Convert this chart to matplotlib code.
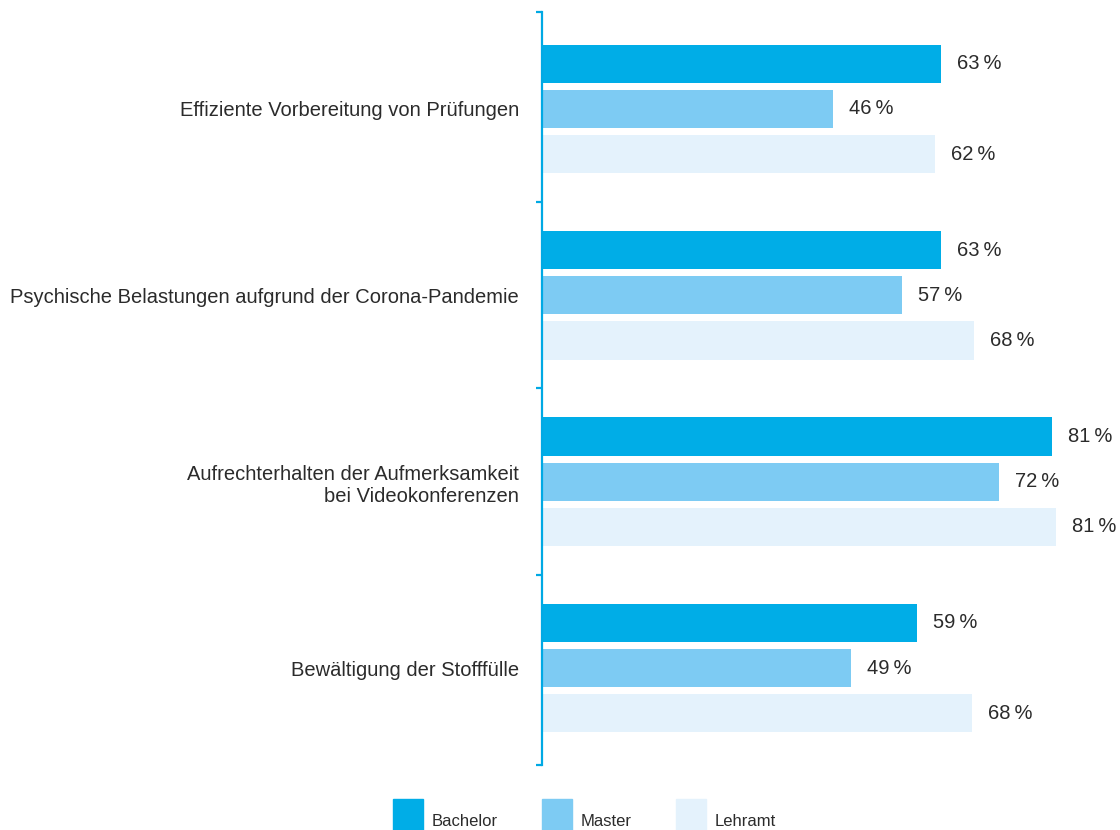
import numpy as np
import matplotlib
matplotlib.use('Agg')
import matplotlib.pylab as plt
from matplotlib.patches import Rectangle

# data (percent)
categories = ['Effiziente Vorbereitung von Prüfungen',
              'Psychische Belastungen aufgrund der Corona-Pandemie',
              'Aufrechterhalten der Aufmerksamkeit\nbei Videokonferenzen',
              'Bewältigung der Stofffülle']
series = ['Bachelor', 'Master', 'Lehramt']
bachelor = [63.2, 63.3, 80.8, 59.4]
master = [46.1, 57.1, 72.4, 48.9]
lehramt = [62.2, 68.4, 81.4, 68.2]
colors = ['#00ade7', '#7dcbf3', '#e4f2fc']
blue = '#00a9e4'
txt = '#2b2b2b'

plt.rcParams['font.family'] = ['Liberation Sans', 'DejaVu Sans']

fig = plt.figure(figsize=(11.2, 8.3), dpi=100)
ax = fig.add_axes([542/1120, 1-765/830, 568/1120, 753/830])

y = np.arange(len(categories))
step, h = 0.242, 0.205
for i, (vals, c) in enumerate(zip([bachelor, master, lehramt], colors)):
    yy = y + (i-1)*step
    ax.barh(yy, vals, height=h, color=c, zorder=2)
    for v, yv in zip(vals, yy):
        ax.annotate('%i\u2009%%' % round(v), (v, yv), xytext=(11.5, 0),
                    textcoords='offset points', va='center', ha='left',
                    fontsize=14.5, color=txt, annotation_clip=False)

ax.set_xlim(0, 90)
ax.set_ylim(3.52, -0.52)
for s in ['top', 'right', 'bottom']:
    ax.spines[s].set_visible(False)
ax.spines['left'].set_color(blue)
ax.spines['left'].set_linewidth(1.6)
ax.set_xticks([])
ax.set_yticks([-0.52, 0.5, 1.5, 2.5, 3.52])
ax.set_yticklabels([])
ax.tick_params(axis='y', which='major', length=4, width=1.6, color=blue)
ax.set_yticks(y, minor=True)
ax.set_yticklabels(categories, minor=True, fontsize=14.5, color=txt,
                   ha='right', multialignment='right')
ax.tick_params(axis='y', which='minor', length=0, pad=16.5)

# legend drawn by hand at the bottom
lx = [393, 542, 676]
for x0, name, c in zip(lx, series, colors):
    fig.patches.append(Rectangle((x0/1120, 0), 30/1120, 31/830, color=c,
                                 transform=fig.transFigure))
    fig.text((x0+39)/1120, 1/830, name, fontsize=12, color=txt,
             ha='left', va='bottom')

fig.savefig('out.png', dpi=100)
